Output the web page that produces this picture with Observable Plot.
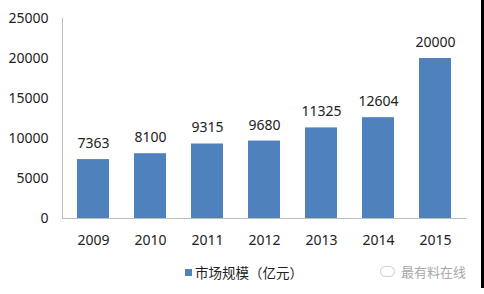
<!DOCTYPE html>
<html>
<head>
<meta charset="utf-8">
<script src="https://cdn.jsdelivr.net/npm/d3@7"></script>
<script src="https://cdn.jsdelivr.net/npm/@observablehq/plot@0.6"></script>
<style>
  html, body { margin: 0; padding: 0; background: #fff; }
  #wrap { position: relative; width: 484px; height: 294px; overflow: hidden; font-family: "Noto Sans", "Noto Sans CJK SC", sans-serif; }
  #edge { position: absolute; right: 0; top: 0; width: 3px; height: 288px; background: #000; }
  #legend { position: absolute; left: 185px; top: 262px; display: flex; align-items: center; font-family: "Noto Sans CJK SC", sans-serif; font-size: 13.5px; color: #222; }
  #legend .sw { width: 7px; height: 7px; background: #4f81bd; margin-right: 3px; }
  #mark { position: absolute; left: 380px; top: 262px; display: flex; align-items: center; font-family: "Noto Sans CJK SC", sans-serif; font-size: 13px; color: #a8a8a8; }
  #mark .ic { width: 13px; height: 9px; border: 1px solid #ccc; border-radius: 6px; margin-right: 6px; }
</style>
</head>
<body>
<div id="wrap">
  <div id="chart"></div>
  <div id="legend"><span class="sw"></span><span>市场规模（亿元）</span></div>
  <div id="mark"><span class="ic"></span><span>最有料在线</span></div>
  <div id="edge"></div>
</div>
<script>
const years = ["2009", "2010", "2011", "2012", "2013", "2014", "2015"];
const values = [7363, 8100, 9315, 9680, 11325, 12604, 20000];
const yTicks = [0, 5000, 10000, 15000, 20000, 25000];

const data = years.map((y, i) => ({year: y, value: values[i]}));

const chart = Plot.plot({
  width: 484,
  height: 256,
  marginLeft: 62,
  marginRight: 17,
  marginTop: 18,
  marginBottom: 38,
  style: {fontFamily: "'Noto Sans', sans-serif", fontSize: "14px", color: "#222", background: "transparent"},
  x: {domain: years, paddingInner: 0.43, paddingOuter: 0.21, label: null},
  y: {domain: [0, 25000], ticks: yTicks, label: null},
  marks: [
    Plot.barY(data, {x: "year", y: "value", fill: "#4f81bd"}),
    Plot.text(data, {x: "year", y: "value", text: d => String(d.value), dy: -16, lineAnchor: "middle", fill: "#222", fontSize: 14}),
    Plot.frame({anchor: "left", stroke: "#bdbdbd"}),
    Plot.ruleY([0], {stroke: "#bdbdbd"}),
    Plot.axisX({tickSize: 0, tickPadding: 17, fontSize: 14, label: null}),
    Plot.axisY({ticks: yTicks, tickSize: 0, tickPadding: 14, fontSize: 14, label: null, tickFormat: d => String(d)})
  ]
});
document.getElementById("chart").appendChild(chart);
</script>
</body>
</html>
